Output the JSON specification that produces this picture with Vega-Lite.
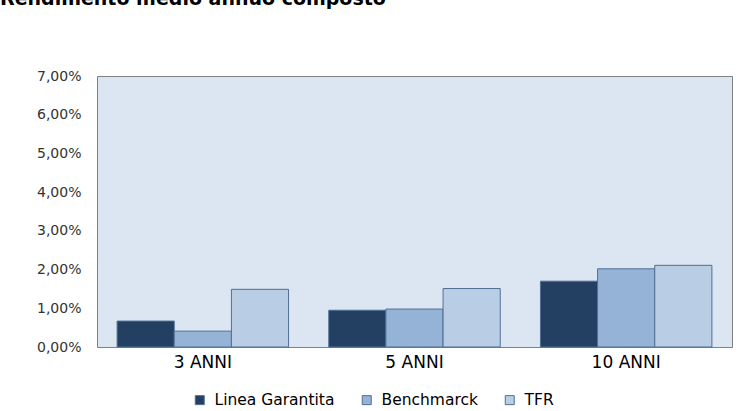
{
  "$schema": "https://vega.github.io/schema/vega-lite/v6.json",
  "width": 635,
  "height": 271,
  "autosize": {"type": "none"},
  "padding": {"left": 97, "top": 76, "right": 10, "bottom": 64},
  "background": "#ffffff",
  "title": {
    "text": "Rendimento medio annuo composto",
    "anchor": "start",
    "frame": "group",
    "dx": -97,
    "offset": 45,
    "baseline": "alphabetic",
    "font": "DejaVu Sans",
    "fontSize": 19,
    "fontWeight": "bold",
    "color": "#000000"
  },
  "data": {
    "values": [
      {"periodo": "3 ANNI", "serie": "Linea Garantita", "valore": 0.67},
      {"periodo": "3 ANNI", "serie": "Benchmarck", "valore": 0.41},
      {"periodo": "3 ANNI", "serie": "TFR", "valore": 1.49},
      {"periodo": "5 ANNI", "serie": "Linea Garantita", "valore": 0.95},
      {"periodo": "5 ANNI", "serie": "Benchmarck", "valore": 0.98},
      {"periodo": "5 ANNI", "serie": "TFR", "valore": 1.51},
      {"periodo": "10 ANNI", "serie": "Linea Garantita", "valore": 1.70},
      {"periodo": "10 ANNI", "serie": "Benchmarck", "valore": 2.02},
      {"periodo": "10 ANNI", "serie": "TFR", "valore": 2.11}
    ]
  },
  "mark": {"type": "bar", "stroke": "#4F6F96", "strokeWidth": 1},
  "encoding": {
    "x": {
      "field": "periodo",
      "type": "nominal",
      "sort": ["3 ANNI", "5 ANNI", "10 ANNI"],
      "scale": {"paddingInner": 0.19, "paddingOuter": 0.095},
      "axis": {
        "title": null,
        "labelAngle": 0,
        "ticks": false,
        "domain": false,
        "labelPadding": 7,
        "labelFont": "DejaVu Sans",
        "labelFontSize": 17,
        "labelColor": "#000000"
      }
    },
    "xOffset": {
      "field": "serie",
      "type": "nominal",
      "sort": ["Linea Garantita", "Benchmarck", "TFR"],
      "scale": {"paddingInner": 0, "paddingOuter": 0}
    },
    "y": {
      "field": "valore",
      "type": "quantitative",
      "scale": {"domain": [0, 7], "nice": false},
      "axis": {
        "title": null,
        "values": [0, 1, 2, 3, 4, 5, 6, 7],
        "labelExpr": "replace(format(datum.value, '.2f'), '.', ',') + '%'",
        "grid": false,
        "ticks": false,
        "domain": false,
        "labelPadding": 16,
        "labelFont": "DejaVu Sans",
        "labelFontSize": 14,
        "labelColor": "#333333"
      }
    },
    "color": {
      "field": "serie",
      "type": "nominal",
      "sort": ["Linea Garantita", "Benchmarck", "TFR"],
      "scale": {
        "domain": ["Linea Garantita", "Benchmarck", "TFR"],
        "range": ["#233F62", "#95B3D7", "#B9CDE5"]
      },
      "legend": {
        "title": null,
        "orient": "none",
        "legendX": 95,
        "legendY": 316,
        "direction": "horizontal",
        "symbolType": "square",
        "symbolSize": 81,
        "symbolOpacity": 1,
        "symbolStrokeColor": "#4F6F96",
        "symbolStrokeWidth": 1,
        "labelFont": "DejaVu Sans",
        "labelFontSize": 15.5,
        "labelColor": "#000000",
        "labelOffset": 7,
        "columnPadding": 24
      }
    }
  },
  "config": {
    "view": {"fill": "#DCE6F2", "stroke": "#808080", "strokeWidth": 1}
  }
}
